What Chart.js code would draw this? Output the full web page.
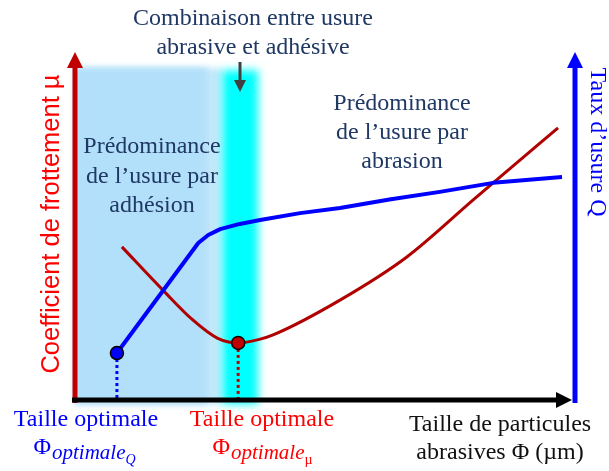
<!DOCTYPE html>
<html>
<head>
<meta charset="utf-8">
<script src="https://cdn.jsdelivr.net/npm/chart.js@4/dist/chart.umd.min.js"></script>
<style>
  html, body { margin: 0; padding: 0; background: #fff; }
  #box { width: 609px; height: 471px; }
</style>
</head>
<body>
<div id="box"><canvas id="myChart"></canvas></div>
<script>
// particle size axis runs 0..100, both value axes 0..100 (schematic units)
const sizeQ = [8.4, 24.7, 26.7, 29.1, 33.0, 37.1, 45.1, 53.1, 63.0, 73.1, 83.8, 97.6];
const wearRate = [13.5, 45.1, 47.4, 49.1, 50.6, 51.7, 53.7, 55.2, 57.6, 59.8, 62.4, 64.1];
const sizeMu = [9.4, 18.0, 23.6, 28.5, 32.7, 37.1, 39.7, 53.1, 66.5, 79.8, 83.8, 96.8];
const friction = [44.0, 31.0, 23.0, 17.8, 16.4, 17.5, 18.7, 28.7, 41.1, 57.5, 62.4, 78.2];
const optimumQ = [8.4, 13.5];
const optimumMu = [32.7, 16.4];
// [from, to, top] of the shaded wear regimes
const adhesionZone = [0, 26.6, 95.4];
const mixedZone = [29.5, 36.7, 94.8];

const titleLines = ['Combinaison entre usure', 'abrasive et adhésive'];
const adhesionLines = ['Prédominance', 'de l\u2019usure par', 'adhésion'];
const abrasionLines = ['Prédominance', 'de l\u2019usure par', 'abrasion'];
const yLeftTitle = 'Coefficient de frottement \u00b5';
const yRightTitle = 'Taux d\u2019usure Q';
const xTitle = ['Taille de particules', 'abrasives \u03a6 (\u00b5m)'];
const optimumText = 'Taille optimale';

const SERIF = '"Liberation Serif", "Times New Roman", serif';
const SANS = '"Liberation Sans", Arial, sans-serif';
const NAVY = '#1f3864';

function points(xs, ys) {
    return xs.map((v, i) => ({ x: v, y: ys[i] }));
}

function arrowUp(ctx, x, yBottom, yTip, color) {
    ctx.strokeStyle = color;
    ctx.fillStyle = color;
    ctx.lineWidth = 5;
    ctx.beginPath();
    ctx.moveTo(x, yBottom);
    ctx.lineTo(x, yTip + 14);
    ctx.stroke();
    ctx.beginPath();
    ctx.moveTo(x, yTip);
    ctx.lineTo(x - 8, yTip + 16);
    ctx.lineTo(x + 8, yTip + 16);
    ctx.closePath();
    ctx.fill();
}

// Φ with an italic subscript and a second-level index
function drawPhi(ctx, cx, y, sub, index, color, indexItalic) {
    ctx.fillStyle = color;
    ctx.textBaseline = 'alphabetic';
    ctx.textAlign = 'left';
    const big = '24px ' + SERIF;
    const mid = 'italic 21px ' + SERIF;
    const small = (indexItalic ? 'italic ' : '') + '14px ' + SERIF;
    ctx.font = big;
    const w1 = ctx.measureText('\u03a6').width;
    ctx.font = mid;
    const w2 = ctx.measureText(sub).width;
    ctx.font = small;
    const w3 = ctx.measureText(index).width;
    let x = cx - (w1 + w2 + w3) / 2;
    ctx.font = big;
    ctx.fillText('\u03a6', x, y);
    x += w1 + 1;
    ctx.font = mid;
    ctx.fillText(sub, x, y + 5);
    x += w2;
    ctx.font = small;
    ctx.fillText(index, x, y + 10);
}

const sketch = {
    id: 'sketch',
    beforeDatasetsDraw(chart) {
        const { ctx, scales: { x, y } } = chart;
        const bottom = y.getPixelForValue(0);
        const zone = (from, to, top) => [x.getPixelForValue(from), y.getPixelForValue(top),
            x.getPixelForValue(to) - x.getPixelForValue(from), bottom - y.getPixelForValue(top) + 4];
        ctx.save();
        ctx.filter = 'blur(3px)';
        // paler strip between the adhesion regime and the mixed band
        ctx.fillStyle = '#c6e9fa';
        ctx.fillRect(...zone(adhesionZone[0], mixedZone[0], adhesionZone[2]));
        ctx.fillStyle = '#b2dffa';
        ctx.fillRect(...zone(adhesionZone[0], adhesionZone[1], adhesionZone[2]));
        ctx.filter = 'blur(4px)';
        ctx.fillStyle = '#00ffff';
        ctx.fillRect(...zone(mixedZone[0], mixedZone[1], mixedZone[2]));
        ctx.restore();
    },
    afterDatasetsDraw(chart) {
        const { ctx, chartArea: a } = chart;
        ctx.save();

        // axes with arrow heads
        arrowUp(ctx, a.left, a.bottom + 3, a.top, '#c00000');
        arrowUp(ctx, a.right + 1, a.bottom + 3, a.top, '#0000ff');
        ctx.strokeStyle = '#000';
        ctx.fillStyle = '#000';
        ctx.lineWidth = 5;
        ctx.beginPath();
        ctx.moveTo(a.left - 3, a.bottom);
        ctx.lineTo(a.right - 16, a.bottom);
        ctx.stroke();
        ctx.beginPath();
        ctx.moveTo(a.right - 2, a.bottom);
        ctx.lineTo(a.right - 18, a.bottom - 8);
        ctx.lineTo(a.right - 18, a.bottom + 8);
        ctx.closePath();
        ctx.fill();

        // small grey pointer to the mixed band
        ctx.strokeStyle = '#404040';
        ctx.fillStyle = '#404040';
        ctx.lineWidth = 3;
        ctx.beginPath();
        ctx.moveTo(240, 62);
        ctx.lineTo(240, 82);
        ctx.stroke();
        ctx.beginPath();
        ctx.moveTo(240, 92);
        ctx.lineTo(234, 80);
        ctx.lineTo(246, 80);
        ctx.closePath();
        ctx.fill();

        ctx.textAlign = 'center';
        ctx.textBaseline = 'middle';
        ctx.fillStyle = NAVY;
        ctx.font = '24px ' + SERIF;
        titleLines.forEach((t, i) => ctx.fillText(t, 253, 19 + i * 29));
        adhesionLines.forEach((t, i) => ctx.fillText(t, 152, 147 + i * 29.5));
        abrasionLines.forEach((t, i) => ctx.fillText(t, 402, 104 + i * 29));

        // rotated axis titles
        ctx.save();
        ctx.translate(52, 224);
        ctx.rotate(-Math.PI / 2);
        ctx.fillStyle = '#ff0000';
        ctx.font = '25.5px ' + SANS;
        ctx.fillText(yLeftTitle, 0, 0);
        ctx.restore();

        ctx.save();
        ctx.translate(597, 142);
        ctx.rotate(Math.PI / 2);
        ctx.fillStyle = '#0000ff';
        ctx.font = '24px ' + SERIF;
        ctx.fillText(yRightTitle, 0, 0);
        ctx.restore();

        // labels under the x axis
        ctx.font = '24px ' + SERIF;
        ctx.fillStyle = '#0000ff';
        ctx.fillText(optimumText, 86, 420);
        ctx.fillStyle = '#ff0000';
        ctx.fillText(optimumText, 262, 420);
        ctx.fillStyle = '#111';
        xTitle.forEach((t, i) => ctx.fillText(t, 500, 425 + i * 28));

        drawPhi(ctx, 84, 454, 'optimale', 'Q', '#0000ff', true);
        drawPhi(ctx, 262, 454, 'optimale', '\u00b5', '#ff0000', false);

        ctx.restore();
    }
};

const chart = new Chart(document.querySelector('#myChart'), {
    type: 'line',
    data: {
        datasets: [
            {
                data: [{ x: optimumQ[0], y: optimumQ[1] }],
                showLine: false,
                pointRadius: 6.5,
                pointBackgroundColor: '#0000ff',
                pointBorderColor: '#000',
                pointBorderWidth: 1.5,
                clip: false
            },
            {
                data: [{ x: optimumMu[0], y: optimumMu[1] }],
                showLine: false,
                pointRadius: 6.5,
                pointBackgroundColor: '#c00000',
                pointBorderColor: '#000',
                pointBorderWidth: 1.5,
                clip: false
            },
            {
                data: points(sizeQ, wearRate),
                borderColor: '#0000ff',
                borderWidth: 4,
                borderJoinStyle: 'round',
                pointRadius: 0,
                tension: 0,
                clip: false
            },
            {
                data: points(sizeMu, friction),
                borderColor: '#b00000',
                borderWidth: 3,
                pointRadius: 0,
                cubicInterpolationMode: 'monotone',
                clip: false
            },
            {
                data: [{ x: optimumQ[0], y: optimumQ[1] }, { x: optimumQ[0], y: 0 }],
                borderColor: '#0000ff',
                borderWidth: 3,
                borderDash: [3, 3],
                pointRadius: 0,
                clip: false
            },
            {
                data: [{ x: optimumMu[0], y: optimumMu[1] }, { x: optimumMu[0], y: 0 }],
                borderColor: '#c00000',
                borderWidth: 3,
                borderDash: [3, 3],
                pointRadius: 0,
                clip: false
            }
        ]
    },
    options: {
        responsive: true,
        maintainAspectRatio: false,
        animation: false,
        layout: { padding: { left: 75, right: 35, top: 52, bottom: 71 } },
        scales: {
            x: { type: 'linear', min: 0, max: 100, display: false },
            y: { type: 'linear', min: 0, max: 100, display: false }
        },
        plugins: {
            legend: { display: false },
            tooltip: { enabled: false }
        }
    },
    plugins: [sketch]
});
</script>
</body>
</html>
